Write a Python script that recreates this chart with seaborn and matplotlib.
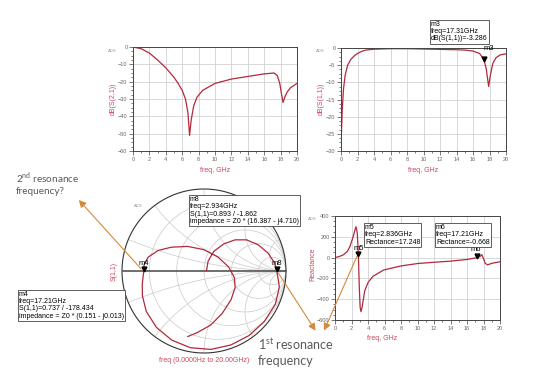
import numpy as np
import matplotlib
matplotlib.use("Agg")
import matplotlib.pyplot as plt
import seaborn as sns
from matplotlib.ticker import MultipleLocator

W, H = 540, 386

# dB(S(2,1)) vs freq
freq_s21 = [0, 1, 2, 3, 4, 5, 5.5, 6, 6.4, 6.7, 6.9, 7.1, 7.4, 7.8, 8.5, 10, 12, 14, 16,
            17.2, 17.6, 17.9, 18.1, 18.3, 18.5, 18.8, 19.2, 20]
db_s21 = [0, -1, -3.5, -7.5, -12, -17.5, -21, -25, -30, -38, -51, -42, -34, -29, -25, -21,
          -18.5, -17, -15.5, -15, -16.5, -21, -27, -32, -29, -26, -23.5, -21]

# dB(S(1,1)) vs freq
freq_s11 = [0, 0.05, 0.15, 0.3, 0.5, 0.8, 1.2, 1.6, 2, 2.5, 3, 4, 6, 8, 10, 12, 14, 15, 16,
            16.8, 17.31, 17.6, 17.9, 18.1, 18.4, 18.8, 19.3, 20]
db_s11 = [-28.5, -25, -18, -12, -8, -5, -3.3, -2.3, -1.6, -1.0, -0.6, -0.35, -0.2, -0.2, -0.3,
          -0.4, -0.5, -0.6, -0.9, -1.6, -3.286, -6, -11.2, -8, -4.5, -2.8, -2.0, -1.7]

# Reactance vs freq
freq_x = [0, 0.5, 1, 1.5, 1.8, 2.2, 2.4, 2.55, 2.7, 2.836, 2.95, 3.05, 3.15, 3.3, 3.6, 4, 4.6,
          5.9, 8, 10, 12, 14, 16, 17.21, 17.6, 17.8, 18.0, 18.2, 18.5, 19, 20]
reactance = [0, 10, 26, 60, 105, 200, 260, 297, 240, 17, -300, -480, -520, -470, -320, -240,
             -180, -119, -80, -57, -45, -34, -18, -0.668, 12, 28, -10, -55, -70, -55, -40]

# S(1,1) on the Smith chart, 0 -> 20 GHz
s11_re = [0.03, 0.05, 0.12, 0.24, 0.38, 0.52, 0.66, 0.78, 0.86, 0.893, 0.919, 0.870, 0.735,
          0.551, 0.328, 0.084, -0.165, -0.393, -0.579, -0.704, -0.751, -0.753, -0.737,
          -0.73, -0.68, -0.56, -0.40, -0.20, 0.0, 0.17, 0.30, 0.37, 0.38, 0.33, 0.22, 0.08,
          -0.08, -0.20]
s11_im = [0.0, 0.12, 0.24, 0.33, 0.38, 0.38, 0.32, 0.22, 0.10, -0.029, -0.195, -0.406, -0.617,
          -0.786, -0.902, -0.956, -0.936, -0.843, -0.689, -0.493, -0.303, -0.160, -0.021,
          0.08, 0.17, 0.25, 0.29, 0.30, 0.26, 0.17, 0.05, -0.08, -0.20, -0.35, -0.52, -0.66,
          -0.75, -0.80]

TRACE = "#b02a3c"
LABEL = "#c8485e"
ORANGE = "#d38a3e"
NOTE = "#5a5a5a"

sns.set_theme(style="ticks")
plt.rcParams["font.family"] = ["Liberation Sans", "DejaVu Sans"]
plt.rcParams["mathtext.fontset"] = "custom"
plt.rcParams["mathtext.rm"] = "Lato"

fig = plt.figure(figsize=(5.4, 3.86), dpi=100)
fig.patch.set_facecolor("white")


def rect(x0, y0, x1, y1):
    return [x0 / W, 1 - y1 / H, (x1 - x0) / W, (y1 - y0) / H]


def ads_axes(r, ylim, ystep):
    ax = fig.add_axes(r)
    ax.set_xlim(0, 20)
    ax.set_ylim(*ylim)
    ax.xaxis.set_major_locator(MultipleLocator(2))
    ax.xaxis.set_minor_locator(MultipleLocator(1))
    ax.yaxis.set_major_locator(MultipleLocator(ystep))
    ax.yaxis.set_minor_locator(MultipleLocator(ystep / 4))
    ax.grid(True, which="major", color="#d2d2d2", lw=0.6)
    ax.tick_params(which="both", direction="out", labelsize=4, colors="#444",
                   labelcolor="#666", width=0.5, pad=1)
    ax.tick_params(which="major", length=3)
    ax.tick_params(which="minor", length=1.5)
    for s in ax.spines.values():
        s.set_color("#444")
        s.set_linewidth(0.7)
    return ax


# S21
ax1 = ads_axes(rect(133, 47, 297, 151), (-60, 0), 10)
sns.lineplot(x=freq_s21, y=db_s21, ax=ax1, color=TRACE, lw=0.9)

# S11
ax2 = ads_axes(rect(341, 48, 506, 151), (-30, 0), 5)
sns.lineplot(x=freq_s11, y=db_s11, ax=ax2, color=TRACE, lw=0.9)
ax2.plot([17.31], [-3.286], marker="v", color="black", ms=3.5)
ax2.text(17.31, -1.2, "m3", fontsize=5.5, ha="left", va="bottom", color="black")

# Reactance
ax3 = ads_axes(rect(335, 216, 500, 320), (-600, 400), 200)
sns.lineplot(x=freq_x, y=reactance, ax=ax3, color=TRACE, lw=0.9)
ax3.plot([2.836, 17.21], [17.248 + 18, -0.668 + 18], ls="none", marker="v", color="black", ms=3.5)
ax3.text(2.3, 50, "m5", fontsize=5.5, ha="left", va="bottom", color="black")
ax3.text(16.4, 40, "m6", fontsize=5.5, ha="left", va="bottom", color="black")

# Smith chart
axs = fig.add_axes(rect(122, 189, 286, 353))
axs.set_xlim(-1, 1)
axs.set_ylim(-1, 1)
axs.set_aspect("equal")
axs.axis("off")
grid_kw = dict(color="#c9c9c9", lw=0.5)
t = np.linspace(0, 2 * np.pi, 400)
for r in [0.2, 0.5, 1, 2, 5]:
    c, rad = r / (1 + r), 1 / (1 + r)
    axs.plot(c + rad * np.cos(t), rad * np.sin(t), **grid_kw)
rr = np.concatenate([[0], np.logspace(-3, 3, 400)])
for x in [0.2, 0.5, 1, 2, 5]:
    for sgn in (1, -1):
        z = rr + 1j * sgn * x
        g = (z - 1) / (z + 1)
        axs.plot(g.real, g.imag, **grid_kw)
axs.plot(np.cos(t), np.sin(t), color="#333", lw=0.8, clip_on=False)
axs.plot([-1, 1], [0, 0], color="#555", lw=1.2)
sns.lineplot(x=s11_re, y=s11_im, ax=axs, color=TRACE, lw=0.9, sort=False, estimator=None)
axs.plot([-0.737, 0.893], [0.02, 0.02], ls="none", marker="v", color="black", ms=3.5)
axs.text(-0.737, 0.05, "m4", fontsize=5.5, ha="center", va="bottom", color="black")
axs.text(0.893, 0.05, "m8", fontsize=5.5, ha="center", va="bottom", color="black")

# overlay for labels, marker boxes and notes
ov = fig.add_axes([0, 0, 1, 1])
ov.set_xlim(0, W)
ov.set_ylim(H, 0)
ov.axis("off")
ov.patch.set_alpha(0)

lab = dict(color=LABEL, fontsize=5, ha="center", va="center")
ov.text(113, 99, "dB(S(2,1))", rotation=90, **lab)
ov.text(215, 170, "freq, GHz", **lab)
ov.text(321, 99, "dB(S(1,1))", rotation=90, **lab)
ov.text(423, 170, "freq, GHz", **lab)
ov.text(313, 264, "Reactance", rotation=90, **lab)
ov.text(382, 339, "freq, GHz", **lab)
ov.text(114, 271, "S(1,1)", rotation=90, **lab)
ov.text(204, 361, "freq (0.0000Hz to 20.00GHz)", **lab)

for px, py in [(112, 51), (320, 51), (138, 206), (312, 219)]:
    ov.text(px, py, "ADS", fontsize=3, color="#999", ha="center", va="center")

box = dict(boxstyle="square,pad=0.15", fc="white", ec="#444", lw=0.6)
mk = dict(fontsize=5, ha="left", va="top", color="black", linespacing=1.05, bbox=box)
ov.text(431, 21, "m3\nfreq=17.31GHz\ndB(S(1,1))=-3.286", **mk)
ov.text(190, 196, "m8\nfreq=2.934GHz\nS(1,1)=0.893 / -1.862\nimpedance = Z0 * (16.387 - j4.710)", **mk)
ov.text(19, 291, "m4\nfreq=17.21GHz\nS(1,1)=0.737 / -178.434\nimpedance = Z0 * (0.151 - j0.013)", **mk)
ov.text(365, 224, "m5\nfreq=2.836GHz\nRectance=17.248", **mk)
ov.text(436, 224, "m6\nfreq=17.21GHz\nRectance=-0.668", **mk)

arrow = dict(arrowstyle="-|>,head_length=0.35,head_width=0.18", color=ORANGE, lw=0.8)
ov.annotate("", xy=(77, 198), xytext=(143, 271), arrowprops=arrow)
ov.annotate("", xy=(317, 333), xytext=(277, 271), arrowprops=arrow)
ov.annotate("", xy=(323, 333), xytext=(358, 254), arrowprops=arrow)

note = dict(color=NOTE, ha="left", va="center", family=["Lato", "DejaVu Sans"])
ov.text(16, 178, r"2$^{\rm nd}$ resonance", fontsize=7.2, **note)
ov.text(16, 192, "frequency?", fontsize=7.2, **note)
ov.text(258, 344, r"1$^{\rm st}$ resonance", fontsize=9, **note)
ov.text(258, 361, "frequency", fontsize=9, **note)

fig.savefig("out.png", dpi=100)
